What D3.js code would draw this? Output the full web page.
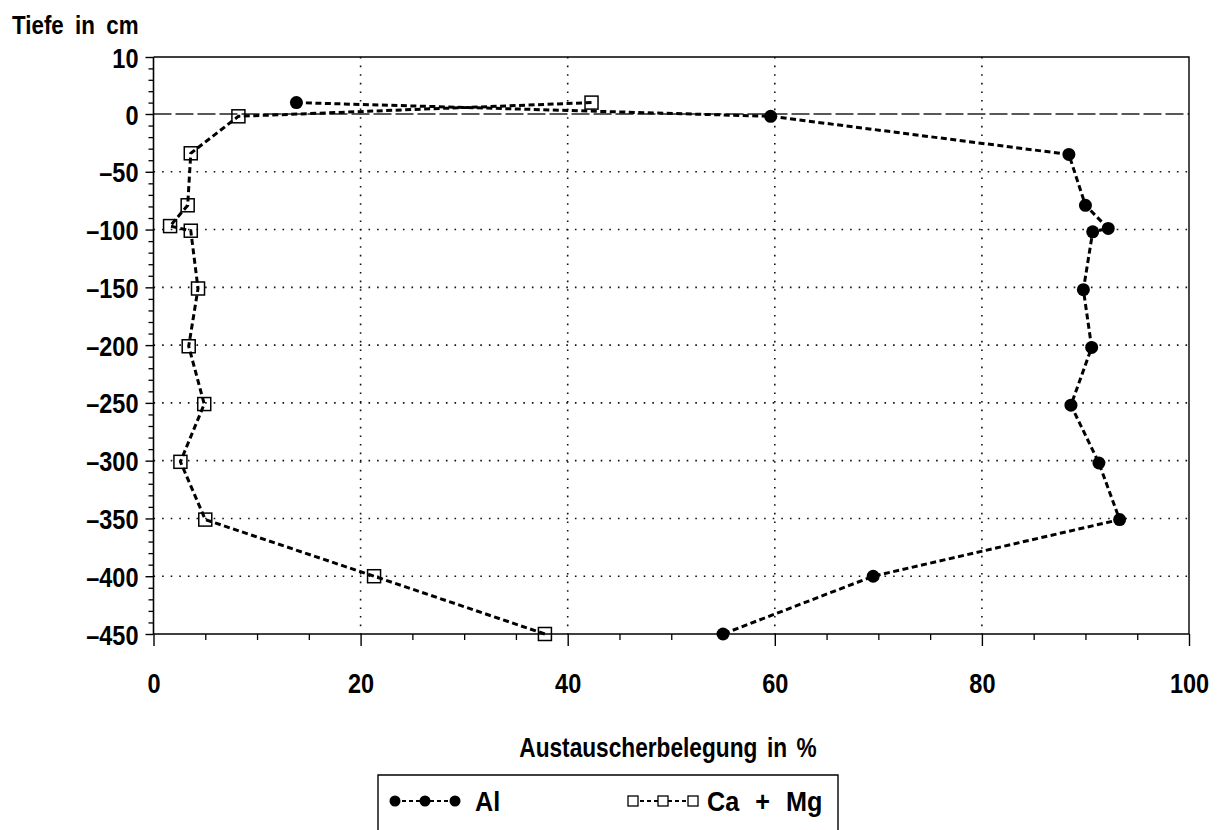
<!DOCTYPE html>
<html>
<head>
<meta charset="utf-8">
<script src="https://cdn.jsdelivr.net/npm/d3@7"></script>
<style>
    html, body { margin: 0; padding: 0; background: #fff; }
    svg { display: block; }
    text { font-family: "Liberation Sans", Arial, sans-serif; font-weight: bold; fill: #000; }
</style>
</head>
<body>
<div id="chart"></div>
<script>
// depth in cm (y) and exchange share in % (x)
const alDepth = [2, -2, -35, -79, -99, -102, -152, -202, -252, -302, -351, -400, -450];
const alValues = [13.8, 59.6, 88.4, 90.0, 92.2, 90.7, 89.8, 90.6, 88.6, 91.3, 93.3, 69.5, 55.0];
const caMgDepth = [2, -2, -34, -79, -97, -101, -151, -201, -251, -301, -351, -400, -450];
const caMgValues = [42.3, 8.2, 3.6, 3.3, 1.6, 3.6, 4.3, 3.4, 4.9, 2.6, 5.0, 21.3, 37.8];

const xTicks = [0, 20, 40, 60, 80, 100];
const yTicks = [10, 0, -50, -100, -150, -200, -250, -300, -350, -400, -450];
const legendLabels = ['Al', 'Ca + Mg'];

const WIDTH = 1218;
const HEIGHT = 830;
const plot = { left: 153.5, right: 1189, top: 57, zero: 114, bottom: 634 };
const SQUEEZE = 0.84; // the original lettering is a condensed bold face

const svg = d3.select('#chart')
    .append('svg')
    .attr('width', WIDTH)
    .attr('height', HEIGHT);

const x = d3.scaleLinear().domain([0, 100]).range([plot.left, plot.right]);
// the top 10 cm are drawn as wide as a 50 cm step in the original
const y = d3.scaleLinear().domain([-450, 0, 10]).range([plot.bottom, plot.zero, plot.top]);

const fmtDepth = (d) => (d < 0 ? '\u2013' + Math.abs(d) : String(d));

// squeeze text horizontally around its anchor point
function condense(selection, k = SQUEEZE) {
    selection.each(function () {
        const t = d3.select(this);
        const tx = +t.attr('x') || 0;
        t.attr('transform', `translate(${tx},0) scale(${k},1) translate(${-tx},0)`);
    });
}

// gridlines
const grid = svg.append('g').attr('class', 'grid');
grid.selectAll('line.gx')
    .data(xTicks.filter((d) => d > 0 && d < 100))
    .enter().append('line')
    .attr('class', 'gx')
    .attr('x1', (d) => x(d)).attr('x2', (d) => x(d))
    .attr('y1', plot.top).attr('y2', plot.bottom)
    .attr('stroke', '#111')
    .attr('stroke-width', 1.6)
    .attr('stroke-dasharray', '1.6,7');

grid.selectAll('line.gy')
    .data(yTicks.filter((d) => d < 0 && d > -450))
    .enter().append('line')
    .attr('class', 'gy')
    .attr('x1', plot.left).attr('x2', plot.right)
    .attr('y1', (d) => y(d)).attr('y2', (d) => y(d))
    .attr('stroke', '#111')
    .attr('stroke-width', 1.6)
    .attr('stroke-dasharray', '1.6,7');

// zero reference line
svg.append('line')
    .attr('x1', plot.left).attr('x2', plot.right)
    .attr('y1', y(0)).attr('y2', y(0))
    .attr('stroke', '#222')
    .attr('stroke-width', 1.3)
    .attr('stroke-dasharray', '18,4');

// frame (top and right)
svg.append('path')
    .attr('d', `M${plot.left},${plot.top}H${plot.right}V${plot.bottom}`)
    .attr('fill', 'none')
    .attr('stroke', '#000')
    .attr('stroke-width', 1.4);

// y axis
const yMinor = d3.range(-440, 0, 10).filter((d) => d % 50 !== 0).concat([2, 4, 6, 8]);
svg.append('g')
    .attr('transform', `translate(${plot.left},0)`)
    .call(d3.axisLeft(y).tickValues(yMinor).tickSize(5).tickFormat(''))
    .call((g) => g.select('.domain').remove())
    .call((g) => g.selectAll('line').attr('stroke-width', 1.3));

const yAxis = svg.append('g')
    .attr('transform', `translate(${plot.left},0)`)
    .call(d3.axisLeft(y).tickValues(yTicks).tickSize(8).tickPadding(7).tickFormat(fmtDepth));
yAxis.select('.domain').attr('stroke-width', 1.6).attr('d', `M0,${plot.top}V${plot.bottom}`);
yAxis.selectAll('line').attr('stroke-width', 1.4);
yAxis.selectAll('text')
    .attr('font-size', 28)
    .attr('dy', '0.36em')
    .style('font-family', '"Liberation Sans", Arial, sans-serif')
    .style('font-weight', 'bold')
    .call(condense);

// x axis
svg.append('g')
    .attr('transform', `translate(0,${plot.bottom})`)
    .call(d3.axisBottom(x).tickValues(d3.range(5, 100, 5).filter((d) => d % 20 !== 0)).tickSize(6).tickFormat(''))
    .call((g) => g.select('.domain').remove())
    .call((g) => g.selectAll('line').attr('stroke-width', 1.3));

const xAxis = svg.append('g')
    .attr('transform', `translate(0,${plot.bottom})`)
    .call(d3.axisBottom(x).tickValues(xTicks).tickSize(12).tickPadding(27).tickFormat(d3.format('d')));
xAxis.select('.domain').attr('stroke-width', 1.6).attr('d', `M${plot.left},0H${plot.right}`);
xAxis.selectAll('line').attr('stroke-width', 1.4);
xAxis.selectAll('text')
    .attr('font-size', 28)
    .style('font-family', '"Liberation Sans", Arial, sans-serif')
    .style('font-weight', 'bold')
    .call(condense);

// titles
svg.append('text')
    .attr('x', 12)
    .attr('y', 34)
    .attr('font-size', 26)
    .attr('word-spacing', 6)
    .text('Tiefe in cm')
    .call(condense, 0.86);

svg.append('text')
    .attr('x', 668)
    .attr('y', 757)
    .attr('text-anchor', 'middle')
    .attr('font-size', 28)
    .attr('word-spacing', 4)
    .text('Austauscherbelegung in %')
    .call(condense, 0.81);

// series
const line = d3.line()
    .x((d) => x(d.v))
    .y((d) => y(d.depth));

const alData = alValues.map((v, i) => ({ v, depth: alDepth[i] }));
const caMgData = caMgValues.map((v, i) => ({ v, depth: caMgDepth[i] }));

[alData, caMgData].forEach((data) => {
    svg.append('path')
        .datum(data)
        .attr('d', line)
        .attr('fill', 'none')
        .attr('stroke', '#000')
        .attr('stroke-width', 3)
        .attr('stroke-dasharray', '6,3.5');
});

svg.append('g')
    .selectAll('circle')
    .data(alData)
    .enter().append('circle')
    .attr('cx', (d) => x(d.v))
    .attr('cy', (d) => y(d.depth))
    .attr('r', 6.5)
    .attr('fill', '#000');

svg.append('g')
    .selectAll('rect')
    .data(caMgData)
    .enter().append('rect')
    .attr('x', (d) => x(d.v) - 6.5)
    .attr('y', (d) => y(d.depth) - 6.5)
    .attr('width', 13)
    .attr('height', 13)
    .attr('fill', 'none')
    .attr('stroke', '#000')
    .attr('stroke-width', 1.5);

// legend
const legend = svg.append('g');
legend.append('path')
    .attr('d', 'M378,840V775H838V840')
    .attr('fill', 'none')
    .attr('stroke', '#000')
    .attr('stroke-width', 1.4);

const legendY = 801;
const symbolXs = [0, 30, 60];

legend.append('line')
    .attr('x1', 395).attr('x2', 455)
    .attr('y1', legendY).attr('y2', legendY)
    .attr('stroke', '#000').attr('stroke-width', 2).attr('stroke-dasharray', '4,3');
legend.selectAll('circle')
    .data(symbolXs)
    .enter().append('circle')
    .attr('cx', (d) => 395 + d)
    .attr('cy', legendY)
    .attr('r', 5.5)
    .attr('fill', '#000');
legend.append('text')
    .attr('x', 475).attr('y', legendY + 10)
    .attr('font-size', 28)
    .text(legendLabels[0])
    .call(condense, 0.9);

legend.append('line')
    .attr('x1', 633).attr('x2', 693)
    .attr('y1', legendY).attr('y2', legendY)
    .attr('stroke', '#000').attr('stroke-width', 2).attr('stroke-dasharray', '4,3');
legend.selectAll('rect')
    .data(symbolXs)
    .enter().append('rect')
    .attr('x', (d) => 633 + d - 5)
    .attr('y', legendY - 5)
    .attr('width', 10)
    .attr('height', 10)
    .attr('fill', '#fff')
    .attr('stroke', '#000')
    .attr('stroke-width', 1.3);
legend.append('text')
    .attr('x', 707).attr('y', legendY + 10)
    .attr('font-size', 28)
    .attr('word-spacing', 10)
    .text(legendLabels[1])
    .call(condense, 0.9);
</script>
</body>
</html>
